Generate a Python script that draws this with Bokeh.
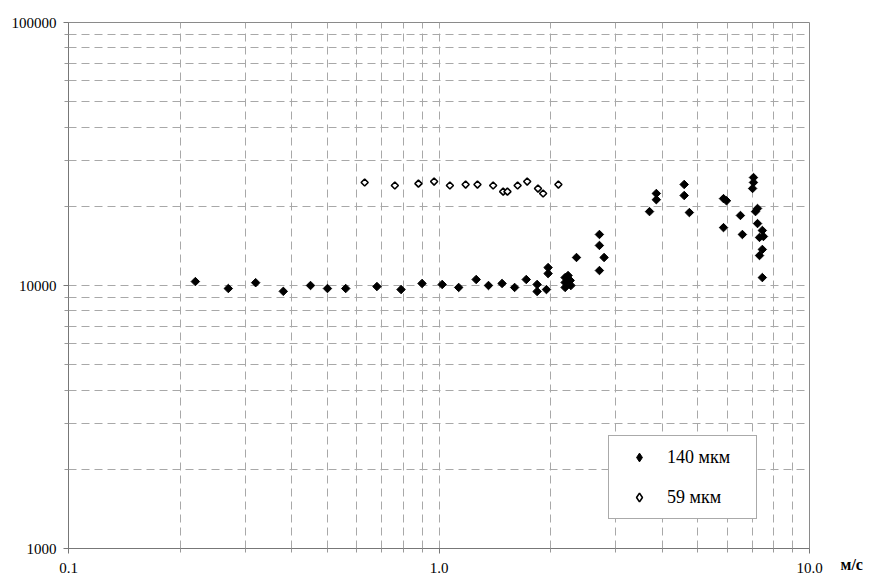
import numpy as np
from bokeh.plotting import figure
from bokeh.models import (FixedTicker, PrintfTickFormatter, Legend, LegendItem,
                          LogAxis, Range1d)
from bokeh.embed import file_html
from bokeh.resources import INLINE

# ---- data ----
speed_140 = [0.22, 0.27, 0.32, 0.38, 0.45, 0.50, 0.56, 0.68, 0.79, 0.90,
             1.02, 1.13, 1.26, 1.36, 1.48, 1.60, 1.72, 1.84, 1.84, 1.95,
             1.97, 1.97, 2.19, 2.19, 2.19, 2.23, 2.26, 2.27, 2.35, 2.71,
             2.71, 2.79, 2.71, 3.70, 3.86, 3.86, 4.59, 4.59, 4.74, 5.86,
             5.97, 5.86, 6.51, 6.59, 7.06, 7.06, 7.02, 7.24, 7.15, 7.24,
             7.46, 7.33, 7.51, 7.46, 7.33, 7.46]
value_140 = [10350, 9740, 10250, 9500, 10000, 9740, 9740, 9910, 9650, 10180,
             10090, 9830, 10540, 10000, 10180, 9830, 10540, 10090, 9490, 9650,
             11700, 11100, 9830, 10270, 10720, 10910, 10450, 10000, 12780, 15630,
             14200, 12780, 11400, 19100, 22380, 21200, 24220, 21990, 18940, 21400,
             21000, 16600, 18460, 15630, 25740, 24650, 23380, 19630, 19100, 17200,
             16190, 15230, 15360, 13710, 13000, 10720]

speed_59 = [0.63, 0.76, 0.88, 0.97, 1.07, 1.18, 1.27, 1.40, 1.49, 1.53,
            1.63, 1.73, 1.85, 1.91, 2.10]
value_59 = [24640, 24000, 24400, 24850, 24000, 24200, 24200, 24000, 22760, 22760,
            24000, 24850, 23370, 22380, 24200]

x_major = [0.1, 1.0, 10.0]
x_minor = [0.2, 0.3, 0.4, 0.5, 0.6, 0.7, 0.8, 0.9, 2, 3, 4, 5, 6, 7, 8, 9]
y_major = [1000, 10000, 100000]
y_minor = [2000, 3000, 4000, 5000, 6000, 7000, 8000, 9000,
           20000, 30000, 40000, 50000, 60000, 70000, 80000, 90000]

legend_labels = ["140 мкм", "59 мкм"]
unit_label = "м/с"

FONT = "Liberation Serif"

p = figure(width=869, height=579, x_axis_type="log", y_axis_type="log",
           x_range=Range1d(0.1, 10), y_range=Range1d(1000, 100000),
           output_backend="svg", toolbar_location=None,
           min_border_left=68, min_border_right=60,
           min_border_top=22, min_border_bottom=31)

p.background_fill_color = "white"
p.border_fill_color = "white"
p.outline_line_color = "#8a8a8a"
p.outline_line_width = 1

p.xaxis.ticker = FixedTicker(ticks=x_major, minor_ticks=x_minor)
p.yaxis.ticker = FixedTicker(ticks=y_major, minor_ticks=y_minor)
p.xaxis.formatter = PrintfTickFormatter(format="%.1f")
p.yaxis.formatter = PrintfTickFormatter(format="%d")

for ax in (p.xaxis, p.yaxis):
    ax.axis_line_color = "#777777"
    ax.major_tick_line_color = "#777777"
    ax.minor_tick_line_color = "#999999"
    ax.major_tick_in = 0
    ax.minor_tick_in = 0
    ax.major_tick_out = 5
    ax.minor_tick_out = 4
    ax.major_label_text_font = FONT
    ax.major_label_text_font_size = "15px"
    ax.major_label_text_color = "black"
p.xaxis.major_label_standoff = 9
p.yaxis.major_label_standoff = 7

for g in (p.xgrid, p.ygrid):
    g.grid_line_color = "#a8a8a8"
    g.grid_line_dash = "8 5"
    g.grid_line_width = 1
    g.minor_grid_line_color = "#a8a8a8"
    g.minor_grid_line_dash = "8 5"
    g.minor_grid_line_width = 1

# unit label "м/с" drawn as the single tick label of an invisible right axis
unit_axis = LogAxis(ticker=FixedTicker(ticks=[1000], minor_ticks=[]),
                    formatter=PrintfTickFormatter(format="\n" + unit_label),
                    axis_line_color=None, major_tick_line_color=None,
                    minor_tick_line_color=None, major_label_standoff=25,
                    major_label_text_font=FONT, major_label_text_font_size="16px",
                    major_label_text_font_style="bold",
                    major_label_text_line_height=1.9,
                    major_label_text_color="black")
p.add_layout(unit_axis, "right")

r1 = p.scatter(speed_140, value_140, marker="square", angle=np.pi / 4, size=6,
               fill_color="black", line_color="black", line_width=1)
r2 = p.scatter(speed_59, value_59, marker="square", angle=np.pi / 4, size=5,
               fill_color="white", line_color="black", line_width=1.6)

# legend glyph stand-ins (diamond shape, hidden in the plot area)
l1 = p.scatter(speed_140[:1], value_140[:1], marker="diamond", size=10,
               fill_color="black", line_color="black", line_width=1,
               visible=False)
l2 = p.scatter(speed_59[:1], value_59[:1], marker="diamond", size=9,
               fill_color="white", line_color="black", line_width=1.6,
               visible=False)

legend = Legend(items=[LegendItem(label=legend_labels[0], renderers=[l1]),
                       LegendItem(label=legend_labels[1], renderers=[l2])],
                location=(540, 29), margin=0, padding=10, spacing=18,
                glyph_width=40, glyph_height=22, label_standoff=8,
                label_width=79, label_height=22,
                label_text_font=FONT, label_text_font_size="18px",
                label_text_color="black",
                inactive_fill_alpha=0,
                border_line_color="#555555", border_line_width=1,
                background_fill_color="white", background_fill_alpha=1)
p.add_layout(legend, "center")

open("out.html", "w").write(file_html(p, INLINE))
